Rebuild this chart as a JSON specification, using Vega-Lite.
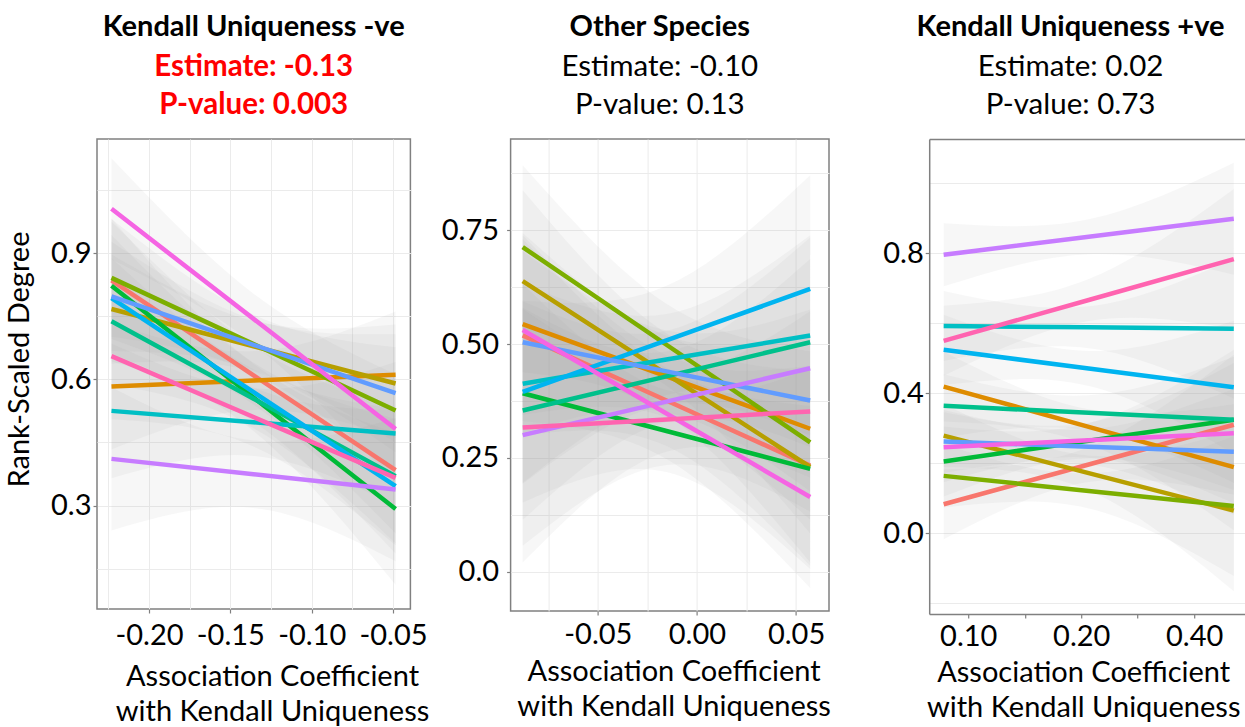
{
  "$schema": "https://vega.github.io/schema/vega-lite/v6.json",
  "background": "white",
  "padding": {"left": 4, "top": 12, "right": 0, "bottom": 0},
  "bounds": "flush",
  "spacing": 99.6,
  "config": {
    "font": "Lato",
    "view": {"stroke": "#808080", "strokeWidth": 1.5},
    "axis": {
      "domain": false, "grid": true, "gridColor": "#EBEBEB", "gridWidth": 1,
      "tickColor": "#808080", "tickSize": 4, "tickWidth": 1.2,
      "labelFont": "Lato", "labelFontSize": 29, "labelColor": "black",
      "labelFlush": false, "labelOverlap": false, "labelBound": false,
      "titleFont": "Lato", "titleFontSize": 29, "titleFontWeight": "normal",
      "titleColor": "black", "titleLineHeight": 35.5
    },
    "title": {
      "font": "Lato", "fontSize": 29, "fontWeight": "bold", "color": "black",
      "subtitleFont": "Lato", "subtitleFontSize": 29.5, "subtitleColor": "black",
      "subtitleLineHeight": 37.5, "subtitlePadding": 11,
      "anchor": "middle", "frame": "group", "offset": 20
    }
  },
  "datasets": {
    "p1": [
      {"g": "A", "x": -0.2231, "y": 0.835, "lo": 0.695, "hi": 0.975},
      {"g": "A", "x": -0.13575, "y": 0.6095, "lo": 0.5395, "hi": 0.6795},
      {"g": "A", "x": -0.0484, "y": 0.384, "lo": 0.234, "hi": 0.534},
      {"g": "B", "x": -0.2231, "y": 0.583, "lo": 0.433, "hi": 0.733},
      {"g": "B", "x": -0.13575, "y": 0.597, "lo": 0.527, "hi": 0.667},
      {"g": "B", "x": -0.0484, "y": 0.611, "lo": 0.461, "hi": 0.761},
      {"g": "C", "x": -0.2231, "y": 0.767, "lo": 0.637, "hi": 0.897},
      {"g": "C", "x": -0.13575, "y": 0.6785, "lo": 0.6185, "hi": 0.7385},
      {"g": "C", "x": -0.0484, "y": 0.59, "lo": 0.45, "hi": 0.73},
      {"g": "D", "x": -0.2231, "y": 0.841, "lo": 0.701, "hi": 0.981},
      {"g": "D", "x": -0.13575, "y": 0.6835, "lo": 0.6135, "hi": 0.7535},
      {"g": "D", "x": -0.0484, "y": 0.526, "lo": 0.376, "hi": 0.676},
      {"g": "E", "x": -0.2231, "y": 0.822, "lo": 0.662, "hi": 0.982},
      {"g": "E", "x": -0.13575, "y": 0.557, "lo": 0.477, "hi": 0.637},
      {"g": "E", "x": -0.0484, "y": 0.292, "lo": 0.112, "hi": 0.472},
      {"g": "F", "x": -0.2231, "y": 0.738, "lo": 0.588, "hi": 0.888},
      {"g": "F", "x": -0.13575, "y": 0.554, "lo": 0.484, "hi": 0.624},
      {"g": "F", "x": -0.0484, "y": 0.37, "lo": 0.21, "hi": 0.53},
      {"g": "G", "x": -0.2231, "y": 0.525, "lo": 0.365, "hi": 0.685},
      {"g": "G", "x": -0.13575, "y": 0.498, "lo": 0.418, "hi": 0.578},
      {"g": "G", "x": -0.0484, "y": 0.471, "lo": 0.301, "hi": 0.641},
      {"g": "H", "x": -0.2231, "y": 0.793, "lo": 0.643, "hi": 0.943},
      {"g": "H", "x": -0.13575, "y": 0.5695, "lo": 0.4995, "hi": 0.6395},
      {"g": "H", "x": -0.0484, "y": 0.346, "lo": 0.186, "hi": 0.506},
      {"g": "I", "x": -0.2231, "y": 0.797, "lo": 0.667, "hi": 0.927},
      {"g": "I", "x": -0.13575, "y": 0.682, "lo": 0.622, "hi": 0.742},
      {"g": "I", "x": -0.0484, "y": 0.567, "lo": 0.427, "hi": 0.707},
      {"g": "J", "x": -0.2231, "y": 0.411, "lo": 0.241, "hi": 0.581},
      {"g": "J", "x": -0.13575, "y": 0.3745, "lo": 0.2945, "hi": 0.4545},
      {"g": "J", "x": -0.0484, "y": 0.338, "lo": 0.168, "hi": 0.508},
      {"g": "K", "x": -0.2231, "y": 1.005, "lo": 0.885, "hi": 1.125},
      {"g": "K", "x": -0.13575, "y": 0.7435, "lo": 0.6835, "hi": 0.8035},
      {"g": "K", "x": -0.0484, "y": 0.482, "lo": 0.352, "hi": 0.612},
      {"g": "L", "x": -0.2231, "y": 0.655, "lo": 0.505, "hi": 0.805},
      {"g": "L", "x": -0.13575, "y": 0.5105, "lo": 0.4405, "hi": 0.5805},
      {"g": "L", "x": -0.0484, "y": 0.366, "lo": 0.206, "hi": 0.526}
    ],
    "p2": [
      {"g": "A", "x": -0.0879, "y": 0.519, "lo": 0.299, "hi": 0.739},
      {"g": "A", "x": -0.0154, "y": 0.376, "lo": 0.276, "hi": 0.476},
      {"g": "A", "x": 0.0571, "y": 0.233, "lo": 0.013, "hi": 0.453},
      {"g": "B", "x": -0.0879, "y": 0.544, "lo": 0.344, "hi": 0.744},
      {"g": "B", "x": -0.0154, "y": 0.429, "lo": 0.339, "hi": 0.519},
      {"g": "B", "x": 0.0571, "y": 0.314, "lo": 0.114, "hi": 0.514},
      {"g": "C", "x": -0.0879, "y": 0.638, "lo": 0.438, "hi": 0.838},
      {"g": "C", "x": -0.0154, "y": 0.434, "lo": 0.344, "hi": 0.524},
      {"g": "C", "x": 0.0571, "y": 0.23, "lo": 0.02, "hi": 0.44},
      {"g": "D", "x": -0.0879, "y": 0.713, "lo": 0.533, "hi": 0.893},
      {"g": "D", "x": -0.0154, "y": 0.4985, "lo": 0.4085, "hi": 0.5885},
      {"g": "D", "x": 0.0571, "y": 0.284, "lo": 0.084, "hi": 0.484},
      {"g": "E", "x": -0.0879, "y": 0.392, "lo": 0.152, "hi": 0.632},
      {"g": "E", "x": -0.0154, "y": 0.309, "lo": 0.219, "hi": 0.399},
      {"g": "E", "x": 0.0571, "y": 0.226, "lo": 0.006, "hi": 0.446},
      {"g": "F", "x": -0.0879, "y": 0.354, "lo": 0.114, "hi": 0.594},
      {"g": "F", "x": -0.0154, "y": 0.429, "lo": 0.329, "hi": 0.529},
      {"g": "F", "x": 0.0571, "y": 0.504, "lo": 0.274, "hi": 0.734},
      {"g": "G", "x": -0.0879, "y": 0.413, "lo": 0.193, "hi": 0.633},
      {"g": "G", "x": -0.0154, "y": 0.466, "lo": 0.366, "hi": 0.566},
      {"g": "G", "x": 0.0571, "y": 0.519, "lo": 0.299, "hi": 0.739},
      {"g": "H", "x": -0.0879, "y": 0.395, "lo": 0.195, "hi": 0.595},
      {"g": "H", "x": -0.0154, "y": 0.508, "lo": 0.388, "hi": 0.628},
      {"g": "H", "x": 0.0571, "y": 0.621, "lo": 0.371, "hi": 0.871},
      {"g": "I", "x": -0.0879, "y": 0.504, "lo": 0.304, "hi": 0.704},
      {"g": "I", "x": -0.0154, "y": 0.44, "lo": 0.35, "hi": 0.53},
      {"g": "I", "x": 0.0571, "y": 0.376, "lo": 0.176, "hi": 0.576},
      {"g": "J", "x": -0.0879, "y": 0.3, "lo": 0.02, "hi": 0.58},
      {"g": "J", "x": -0.0154, "y": 0.3735, "lo": 0.2635, "hi": 0.4835},
      {"g": "J", "x": 0.0571, "y": 0.447, "lo": 0.207, "hi": 0.687},
      {"g": "K", "x": -0.0879, "y": 0.531, "lo": 0.331, "hi": 0.731},
      {"g": "K", "x": -0.0154, "y": 0.3475, "lo": 0.2475, "hi": 0.4475},
      {"g": "K", "x": 0.0571, "y": 0.164, "lo": -0.036, "hi": 0.364},
      {"g": "L", "x": -0.0879, "y": 0.317, "lo": 0.057, "hi": 0.577},
      {"g": "L", "x": -0.0154, "y": 0.3345, "lo": 0.2345, "hi": 0.4345},
      {"g": "L", "x": 0.0571, "y": 0.352, "lo": 0.132, "hi": 0.572}
    ],
    "p3": [
      {"g": "A", "x": 0.086, "y": 0.083, "lo": -0.017, "hi": 0.183},
      {"g": "A", "x": 0.2094, "y": 0.1965, "lo": 0.1465, "hi": 0.2465},
      {"g": "A", "x": 0.51, "y": 0.31, "lo": 0.11, "hi": 0.51},
      {"g": "B", "x": 0.086, "y": 0.419, "lo": 0.319, "hi": 0.519},
      {"g": "B", "x": 0.2094, "y": 0.304, "lo": 0.254, "hi": 0.354},
      {"g": "B", "x": 0.51, "y": 0.189, "lo": 0.009, "hi": 0.369},
      {"g": "C", "x": 0.086, "y": 0.279, "lo": 0.189, "hi": 0.369},
      {"g": "C", "x": 0.2094, "y": 0.172, "lo": 0.122, "hi": 0.222},
      {"g": "C", "x": 0.51, "y": 0.065, "lo": -0.165, "hi": 0.295},
      {"g": "D", "x": 0.086, "y": 0.164, "lo": 0.074, "hi": 0.254},
      {"g": "D", "x": 0.2094, "y": 0.121, "lo": 0.071, "hi": 0.171},
      {"g": "D", "x": 0.51, "y": 0.078, "lo": -0.122, "hi": 0.278},
      {"g": "E", "x": 0.086, "y": 0.205, "lo": 0.105, "hi": 0.305},
      {"g": "E", "x": 0.2094, "y": 0.2645, "lo": 0.2145, "hi": 0.3145},
      {"g": "E", "x": 0.51, "y": 0.324, "lo": 0.124, "hi": 0.524},
      {"g": "F", "x": 0.086, "y": 0.364, "lo": 0.274, "hi": 0.454},
      {"g": "F", "x": 0.2094, "y": 0.344, "lo": 0.294, "hi": 0.394},
      {"g": "F", "x": 0.51, "y": 0.324, "lo": 0.144, "hi": 0.504},
      {"g": "G", "x": 0.086, "y": 0.592, "lo": 0.492, "hi": 0.692},
      {"g": "G", "x": 0.2094, "y": 0.588, "lo": 0.528, "hi": 0.648},
      {"g": "G", "x": 0.51, "y": 0.584, "lo": 0.384, "hi": 0.784},
      {"g": "H", "x": 0.086, "y": 0.524, "lo": 0.424, "hi": 0.624},
      {"g": "H", "x": 0.2094, "y": 0.4705, "lo": 0.4205, "hi": 0.5205},
      {"g": "H", "x": 0.51, "y": 0.417, "lo": 0.227, "hi": 0.607},
      {"g": "I", "x": 0.086, "y": 0.262, "lo": 0.172, "hi": 0.352},
      {"g": "I", "x": 0.2094, "y": 0.2475, "lo": 0.1975, "hi": 0.2975},
      {"g": "I", "x": 0.51, "y": 0.233, "lo": 0.053, "hi": 0.413},
      {"g": "J", "x": 0.086, "y": 0.795, "lo": 0.705, "hi": 0.885},
      {"g": "J", "x": 0.2094, "y": 0.8465, "lo": 0.7965, "hi": 0.8965},
      {"g": "J", "x": 0.51, "y": 0.898, "lo": 0.738, "hi": 1.058},
      {"g": "K", "x": 0.086, "y": 0.246, "lo": 0.146, "hi": 0.346},
      {"g": "K", "x": 0.2094, "y": 0.266, "lo": 0.216, "hi": 0.316},
      {"g": "K", "x": 0.51, "y": 0.286, "lo": 0.086, "hi": 0.486},
      {"g": "L", "x": 0.086, "y": 0.5495, "lo": 0.4495, "hi": 0.6495},
      {"g": "L", "x": 0.2094, "y": 0.666, "lo": 0.606, "hi": 0.726},
      {"g": "L", "x": 0.51, "y": 0.783, "lo": 0.583, "hi": 0.983}
    ]
  },
  "hconcat": [
    {
      "width": 313.4, "height": 470,
      "title": {"text": "Kendall Uniqueness -ve", "subtitle": ["Estimate: -0.13", "P-value: 0.003"], "subtitleColor": "#FF0000", "subtitleFontWeight": "bold", "dx": 0},
      "data": {"name": "p1"},
      "layer": [
        {
          "mark": {"type": "area", "interpolate": "natural", "color": "#999999", "opacity": 0.08, "clip": true},
          "encoding": {
            "x": {"field": "x", "type": "quantitative", "scale": {"domain": [-0.232, -0.0393], "nice": false, "zero": false},
              "axis": {"values": [-0.225, -0.2, -0.175, -0.15, -0.125, -0.1, -0.075, -0.05],
                "labelExpr": "indexof([-0.2,-0.15,-0.1,-0.05], datum.value) >= 0 ? (datum.value < 0 ? '-' : '') + format(abs(datum.value), '.2f') : ''",
                "tickOpacity": {"condition": {"test": "indexof([-0.2,-0.15,-0.1,-0.05], datum.value) >= 0", "value": 1}, "value": 0},
                "labelPadding": 8, "title": ["Association Coefficient", "with Kendall Uniqueness"], "titleX": 175, "titleY": 53}},
            "y": {"field": "lo", "type": "quantitative", "scale": {"domain": [0.0544, 1.1708], "nice": false, "zero": false},
              "axis": {"values": [0.15, 0.3, 0.45, 0.6, 0.75, 0.9, 1.05],
                "labelExpr": "indexof([0.3,0.6,0.9], datum.value) >= 0 ? format(datum.value, '.1f') : ''",
                "tickOpacity": {"condition": {"test": "indexof([0.3,0.6,0.9], datum.value) >= 0", "value": 1}, "value": 0},
                "labelPadding": 2, "title": "Rank-Scaled Degree", "titleFontSize": 29, "titleX": -62.5, "titleY": 220}},
            "y2": {"field": "hi"},
            "detail": {"field": "g"}
          }
        },
        {
          "mark": {"type": "line", "strokeWidth": 4.5, "clip": true},
          "encoding": {
            "x": {"field": "x", "type": "quantitative"},
            "y": {"field": "y", "type": "quantitative"},
            "color": {"field": "g", "type": "nominal", "legend": null,
              "scale": {"domain": ["A","B","C","D","E","F","G","H","I","J","K","L"],
                "range": ["#F8766D","#DE8C00","#B79F00","#7CAE00","#00BA38","#00C08B","#00BFC4","#00B4F0","#619CFF","#C77CFF","#F564E3","#FF64B0"]}}
          }
        }
      ]
    },
    {
      "width": 318.4, "height": 472,
      "title": {"text": "Other Species", "subtitle": ["Estimate: -0.10", "P-value: 0.13"], "dx": -10},
      "data": {"name": "p2"},
      "layer": [
        {
          "mark": {"type": "area", "interpolate": "natural", "color": "#999999", "opacity": 0.08, "clip": true},
          "encoding": {
            "x": {"field": "x", "type": "quantitative", "scale": {"domain": [-0.094, 0.0666], "nice": false, "zero": false},
              "axis": {"values": [-0.075, -0.05, -0.025, 0, 0.025, 0.05],
                "labelExpr": "indexof([-0.05,0,0.05], datum.value) >= 0 ? (datum.value < 0 ? '-' : '') + format(abs(datum.value), '.2f') : ''",
                "tickOpacity": {"condition": {"test": "indexof([-0.05,0,0.05], datum.value) >= 0", "value": 1}, "value": 0},
                "labelPadding": 5, "title": ["Association Coefficient", "with Kendall Uniqueness"], "titleX": 163, "titleY": 46}},
            "y": {"field": "lo", "type": "quantitative", "scale": {"domain": [-0.0863, 0.9504], "nice": false, "zero": false},
              "axis": {"values": [0, 0.125, 0.25, 0.375, 0.5, 0.625, 0.75, 0.875],
                "labelExpr": "indexof([0,0.25,0.5,0.75], datum.value) >= 0 ? (datum.value == 0 ? '0.0' : format(datum.value, '.2f')) : ''",
                "tickOpacity": {"condition": {"test": "indexof([0,0.25,0.5,0.75], datum.value) >= 0", "value": 1}, "value": 0},
                "labelPadding": 8, "title": null}},
            "y2": {"field": "hi"},
            "detail": {"field": "g"}
          }
        },
        {
          "mark": {"type": "line", "strokeWidth": 4.5, "clip": true},
          "encoding": {
            "x": {"field": "x", "type": "quantitative"},
            "y": {"field": "y", "type": "quantitative"},
            "color": {"field": "g", "type": "nominal", "legend": null,
              "scale": {"domain": ["A","B","C","D","E","F","G","H","I","J","K","L"],
                "range": ["#F8766D","#DE8C00","#B79F00","#7CAE00","#00BA38","#00C08B","#00BFC4","#00B4F0","#619CFF","#C77CFF","#F564E3","#FF64B0"]}}
          }
        }
      ]
    },
    {
      "width": 316.7, "height": 475,
      "title": {"text": "Kendall Uniqueness +ve", "subtitle": ["Estimate: 0.02", "P-value: 0.73"], "dx": -17},
      "data": {"name": "p3"},
      "view": {"stroke": null},
      "resolve": {"axis": {"x": "independent"}},
      "layer": [
        {
          "mark": {"type": "area", "interpolate": "natural", "color": "#999999", "opacity": 0.08, "clip": true},
          "encoding": {
            "x": {"field": "x", "type": "quantitative", "scale": {"type": "log", "domain": [0.0787, 0.5493], "nice": false},
              "axis": {"orient": "top", "grid": false, "ticks": false, "labels": false, "domain": true, "domainColor": "#808080", "domainWidth": 1.5, "title": null}},
            "y": {"field": "lo", "type": "quantitative", "scale": {"domain": [-0.2303, 1.1257], "nice": false, "zero": false},
              "axis": {"values": [-0.2, 0, 0.2, 0.4, 0.6, 0.8, 1.0],
                "labelExpr": "indexof([0,0.4,0.8], datum.value) >= 0 ? format(datum.value, '.1f') : ''",
                "tickOpacity": {"condition": {"test": "indexof([0,0.4,0.8], datum.value) >= 0", "value": 1}, "value": 0},
                "domain": true, "domainColor": "#808080", "domainWidth": 1.5,
                "labelPadding": 2, "title": null}},
            "y2": {"field": "hi"},
            "detail": {"field": "g"}
          }
        },
        {
          "mark": {"type": "line", "strokeWidth": 4.5, "clip": true},
          "encoding": {
            "x": {"field": "x", "type": "quantitative",
              "axis": {"values": [0.0841, 0.1, 0.1189, 0.1414, 0.1682, 0.2, 0.2378, 0.2828, 0.3364, 0.4, 0.4757],
                "labelExpr": "indexof([0.1,0.2,0.4], datum.value) >= 0 ? format(datum.value, '.2f') : ''",
                "tickOpacity": {"condition": {"test": "indexof([0.1,0.1414,0.2,0.2828,0.4], datum.value) >= 0", "value": 1}, "value": 0},
                "domain": true, "domainColor": "#808080", "domainWidth": 1.5,
                "labelPadding": 4.5, "title": ["Association Coefficient", "with Kendall Uniqueness"], "titleX": 154, "titleY": 44}},
            "y": {"field": "y", "type": "quantitative"},
            "color": {"field": "g", "type": "nominal", "legend": null,
              "scale": {"domain": ["A","B","C","D","E","F","G","H","I","J","K","L"],
                "range": ["#F8766D","#DE8C00","#B79F00","#7CAE00","#00BA38","#00C08B","#00BFC4","#00B4F0","#619CFF","#C77CFF","#F564E3","#FF64B0"]}}
          }
        }
      ]
    }
  ]
}
